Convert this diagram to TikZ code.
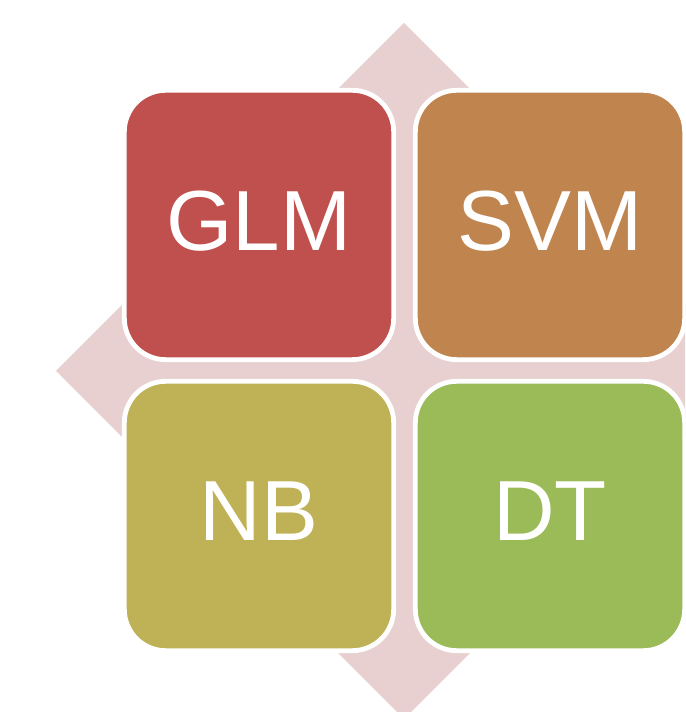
\documentclass[tikz,border=0pt]{standalone}
\usepackage{fontspec}
\setmainfont{Liberation Sans}
\usepackage{tikz}
\usepackage[dvipsnames]{xcolor}
\definecolor{diamondPink}{HTML}{E8D0D1}
\definecolor{glmRed}{HTML}{C0504D}
\definecolor{svmBrown}{HTML}{C0844F}
\definecolor{nbOlive}{HTML}{BFB155}
\definecolor{dtGreen}{HTML}{9BBB59}
\tikzset{
    cell/.style={rectangle, rounded corners=31pt, draw=white, line width=3.6pt,
        minimum width=202pt, minimum height=202pt, inner sep=0pt,
        text=white, text depth=7pt, font=\fontsize{64}{77}\selectfont}
}
\newcommand{\drawCell}[5]{
    \node[cell, fill=#4] (#1) at (#2,#3) {#5}
}

\begin{document}
\begin{tikzpicture}[x=0.75pt,y=0.75pt]
            \clip (0,0) rectangle (685,712);
            \fill[diamondPink] (404,689) -- (752,341) -- (404,-7) -- (56,341) -- cycle;

            \drawCell{glm}{259}{487}{glmRed}{GLM};
            \drawCell{svm}{550}{487}{svmBrown}{SVM};
            \drawCell{nb}{259}{196}{nbOlive}{NB};
            \drawCell{dt}{550}{196}{dtGreen}{DT};
\end{tikzpicture}
\end{document}
